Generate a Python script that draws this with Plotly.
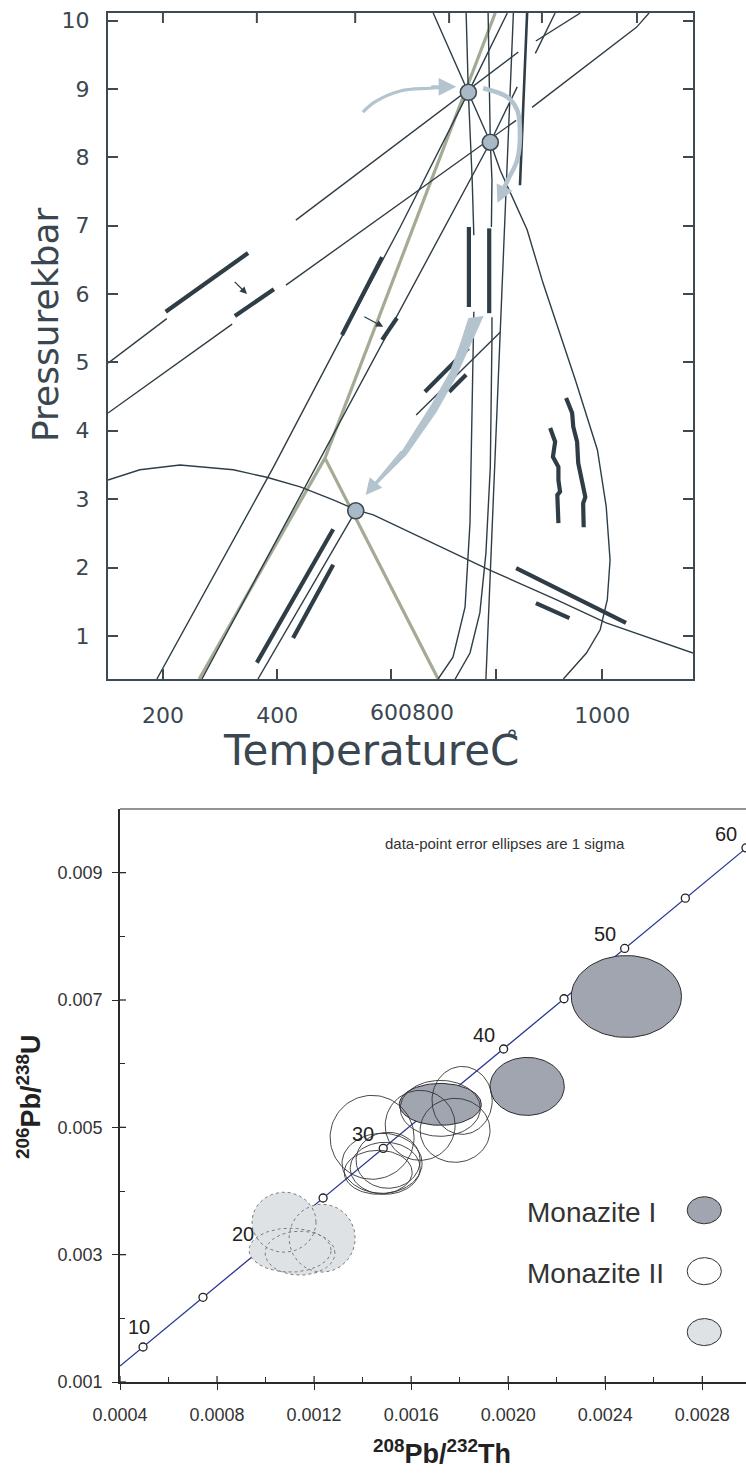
import numpy as np
import plotly.graph_objects as go

# ====================== TOP PANEL DATA: Temperature (°C) vs Pressure (kbar) ======================
# thin reaction / melting lines (segments)
line1a_T = [100, 207];  line1a_P = [4.99, 5.64]
line1b_T = [442, 847];  line1b_P = [7.08, 9.54]
line2a_T = [100, 326];  line2a_P = [4.26, 5.56]
line2b_T = [424, 843];  line2b_P = [6.13, 8.54]
lineA_T = [827, 756, 632, 526, 400, 189]
lineA_P = [10.11, 8.95, 6.98, 5.38, 3.45, 0.37]
lineI_T = [271, 796, 845];  lineI_P = [0.37, 8.22, 9.03]
curve1_T = [692, 756, 796, 814, 863, 892, 941, 951, 991, 1007, 1014, 1009, 996, 971, 929]
curve1_P = [10.11, 8.95, 8.22, 7.81, 6.94, 6.16, 4.99, 4.74, 3.72, 2.89, 2.11, 1.53, 1.09, 0.75, 0.37]
curve2a_T = [752, 756, 763, 766];  curve2a_P = [10.11, 8.95, 7.67, 6.86]
curve2b_T = [766, 765, 759, 750, 728, 701];  curve2b_P = [5.74, 5.33, 2.65, 1.42, 0.69, 0.37]
curve3a_T = [792, 796, 799, 798];  curve3a_P = [10.11, 8.22, 7.67, 6.98]
curve3b_T = [799, 799, 796, 788, 777, 759, 732];  curve3b_P = [5.66, 5.33, 3.47, 2.21, 1.34, 0.75, 0.37]
lineF_T = [838, 788];  lineF_P = [10.11, 0.37]
upper1_T = [879, 960];  upper1_P = [9.70, 10.11]
upper2_T = [878, 914];  upper2_P = [9.52, 10.11]
upper3_T = [872, 965, 1062, 1085];  upper3_P = [8.73, 9.30, 9.90, 10.11]
mid_T = [661, 814];  mid_P = [4.23, 5.44]
low_T = [373, 551];  low_P = [0.37, 2.83]
lowcurve_T = [100, 158, 231, 328, 389, 450, 510, 553, 583, 705, 796, 916, 1007, 1165]
lowcurve_P = [3.28, 3.43, 3.50, 3.43, 3.32, 3.18, 2.99, 2.84, 2.77, 2.30, 1.96, 1.53, 1.19, 0.75]
lineG_T = [863, 850];  lineG_P = [10.11, 7.59]

# aluminosilicate triple point lines
ky_and_T = [266, 495];  ky_and_P = [0.37, 3.60]
ky_sil_T = [495, 805];  ky_sil_P = [3.60, 10.11]
and_sil_T = [495, 701]; and_sil_P = [3.60, 0.37]

# thick bars
bar1_T = [205, 355];  bar1_P = [5.74, 6.60]
bar2_T = [331, 402];  bar2_P = [5.68, 6.07]
bar3_T = [526, 599];  bar3_P = [5.40, 6.54]
bar4_T = [599, 626];  bar4_P = [5.33, 5.65]
bar5_T = [677, 756];  bar5_P = [4.57, 5.21]
bar6_T = [721, 752];  bar6_P = [4.57, 4.82]
bar7_T = [371, 510];  bar7_P = [0.61, 2.56]
bar8_T = [437, 510];  bar8_P = [0.97, 2.04]
bar9_T = [843, 1043]; bar9_P = [1.99, 1.19]
bar10_T = [879, 940]; bar10_P = [1.48, 1.26]
bar11_T = [757, 757]; bar11_P = [6.98, 5.81]
bar12_T = [794, 794]; bar12_P = [6.96, 5.72]
squig1_T = [905, 914, 910, 920, 920, 923, 918, 920]
squig1_P = [4.04, 3.84, 3.62, 3.47, 3.28, 3.11, 3.06, 2.65]
squig2_T = [934, 945, 947, 954, 956, 963, 969, 965, 966]
squig2_P = [4.48, 4.26, 4.06, 3.84, 3.53, 3.28, 3.03, 2.94, 2.59]

# small dark arrows (tail -> head)
darrow_tail_T = [328, 564];  darrow_tail_P = [6.20, 5.68]
darrow_head_T = [353, 601];  darrow_head_P = [6.00, 5.52]

# blue P-T path arrows
path1_T = [564, 586, 632, 686, 722];  path1_P = [8.66, 8.81, 8.97, 9.01, 9.03]
path2_T = [783, 827, 845, 850, 845, 828, 815];  path2_P = [9.01, 8.88, 8.69, 8.35, 7.96, 7.67, 7.45]
path3R_T = [783, 759, 732, 697, 643, 577];  path3R_P = [5.68, 5.25, 4.77, 4.27, 3.65, 3.12]
path3L_T = [757, 743, 723, 690, 637];  path3L_P = [5.65, 5.30, 4.86, 4.39, 3.72]

# invariant points
node_T = [756, 796, 551];  node_P = [8.95, 8.22, 2.83]

# axis ticks
P_ticks = [1, 2, 3, 4, 5, 6, 7, 8, 9, 10]
T_ticks_bottom = [200, 408, 615, 807, 1000]
T_ticklabels_bottom = ["200", "400", "", "", "1000"]
T_ticks_top = [200, 371, 550, 721, 890, 1063]

# ====================== BOTTOM PANEL DATA: concordia ======================
conc_age = [10, 15, 20, 25, 30, 35, 40, 45, 50, 55, 60]
conc_x = [0.000495, 0.000742, 0.000990, 0.001237, 0.001485, 0.001733, 0.001981, 0.00223, 0.00248, 0.00273, 0.00298]
conc_y = [0.00155, 0.00233, 0.00311, 0.00389, 0.00467, 0.00545, 0.00623, 0.00702, 0.00781, 0.00860, 0.00939]
conc_start = (0.0004, 0.00125)
conc_end = (0.00302, 0.00951)
labelled_ages = [10, 20, 30, 40, 50, 60]

# error ellipses: centre x, centre y, semi-axis x, semi-axis y
monI_cx = [0.002487, 0.002078, 0.00172]
monI_cy = [0.007055, 0.005643, 0.005361]
monI_ax = [0.000227, 0.000153, 0.000169]
monI_ay = [0.000643, 0.000455, 0.000329]

monII_cx = [0.001439, 0.001480, 0.001493, 0.001505, 0.001464, 0.001637, 0.001781, 0.001810, 0.001720]
monII_cy = [0.004843, 0.004435, 0.004357, 0.004482, 0.004294, 0.005031, 0.004953, 0.005423, 0.005298]
monII_ax = [0.000173, 0.000165, 0.000144, 0.000132, 0.000140, 0.000144, 0.000144, 0.000124, 0.000165]
monII_ay = [0.000659, 0.000471, 0.000408, 0.000439, 0.000345, 0.000549, 0.000502, 0.000533, 0.000439]

mon3_cx = [0.001076, 0.001233, 0.001101, 0.001142]
mon3_cy = [0.00351, 0.003259, 0.003071, 0.003024]
mon3_ax = [0.000132, 0.000136, 0.000169, 0.000144]
mon3_ay = [0.000471, 0.000533, 0.000345, 0.000345]

legend_labels = ["Monazite I", "Monazite II", ""]
legend_cx = 0.002808
legend_cy = [0.003698, 0.002741, 0.001784]
legend_ax = 0.0000701
legend_ay = 0.000212

x2_ticks = [0.0004, 0.0008, 0.0012, 0.0016, 0.0020, 0.0024, 0.0028]
x2_ticktext = ["0.0004", "0.0008", "0.0012", "0.0016", "0.0020", "0.0024", "0.0028"]
x2_minor = [0.0006, 0.0010, 0.0014, 0.0018, 0.0022, 0.0026]
y2_ticks = [0.001, 0.003, 0.005, 0.007, 0.009]
y2_ticktext = ["0.001", "0.003", "0.005", "0.007", "0.009"]
y2_minor = [0.002, 0.004, 0.006, 0.008]

# ====================== STYLE ======================
W, H = 746, 1477
DARK = "#2f3d46"
AXC = "#3d4a53"
SAGE = "#a4ab94"
BLUE = "#b3c4ce"
NODE = "#a9b9c5"
TXT = "#3a4750"
FONT_TOP = "DejaVu Sans"
FONT_BOT = "Liberation Sans, Arial, sans-serif"


def join(pairs):
    xs, ys = [], []
    for x, y in pairs:
        if xs:
            xs.append(None); ys.append(None)
        xs.extend(x); ys.extend(y)
    return xs, ys


def ellipse(cx, cy, a, b, n=90):
    t = np.linspace(0, 2 * np.pi, n)
    return cx + a * np.cos(t), cy + b * np.sin(t)


fig = go.Figure()

# ---- top panel traces ----
thin = join([(line1a_T, line1a_P), (line1b_T, line1b_P), (line2a_T, line2a_P), (line2b_T, line2b_P),
             (lineA_T, lineA_P), (lineI_T, lineI_P), (curve1_T, curve1_P), (curve2a_T, curve2a_P),
             (curve2b_T, curve2b_P), (curve3a_T, curve3a_P), (curve3b_T, curve3b_P), (lineF_T, lineF_P),
             (upper1_T, upper1_P), (upper2_T, upper2_P), (upper3_T, upper3_P), (mid_T, mid_P),
             (low_T, low_P), (lowcurve_T, lowcurve_P)])
green = join([(ky_and_T, ky_and_P), (ky_sil_T, ky_sil_P), (and_sil_T, and_sil_P)])
thick = join([(bar1_T, bar1_P), (bar2_T, bar2_P), (bar3_T, bar3_P), (bar4_T, bar4_P), (bar5_T, bar5_P),
              (bar6_T, bar6_P), (bar7_T, bar7_P), (bar8_T, bar8_P), (bar9_T, bar9_P), (bar10_T, bar10_P),
              (bar11_T, bar11_P), (bar12_T, bar12_P), (squig1_T, squig1_P), (squig2_T, squig2_P)])

fig.add_trace(go.Scatter(x=green[0], y=green[1], mode="lines", line=dict(color=SAGE, width=3.2),
                         xaxis="x", yaxis="y", hoverinfo="skip"))
fig.add_trace(go.Scatter(x=thin[0], y=thin[1], mode="lines", line=dict(color=DARK, width=1.4),
                         xaxis="x", yaxis="y", hoverinfo="skip"))
fig.add_trace(go.Scatter(x=lineG_T, y=lineG_P, mode="lines", line=dict(color=DARK, width=2.6),
                         xaxis="x", yaxis="y", hoverinfo="skip"))
fig.add_trace(go.Scatter(x=thick[0], y=thick[1], mode="lines", line=dict(color=DARK, width=4.2),
                         xaxis="x", yaxis="y", hoverinfo="skip"))
# blue path arrows
fig.add_trace(go.Scatter(x=path1_T, y=path1_P, mode="lines", line=dict(color=BLUE, width=3.2, shape="spline"),
                         xaxis="x", yaxis="y", hoverinfo="skip"))
fig.add_trace(go.Scatter(x=path2_T, y=path2_P, mode="lines", line=dict(color=BLUE, width=4.5, shape="spline"),
                         xaxis="x", yaxis="y", hoverinfo="skip"))
fig.add_trace(go.Scatter(x=path3R_T + path3L_T[::-1], y=path3R_P + path3L_P[::-1], mode="lines",
                         fill="toself", fillcolor=BLUE, line=dict(color=BLUE, width=1),
                         xaxis="x", yaxis="y", hoverinfo="skip"))
# invariant points
fig.add_trace(go.Scatter(x=node_T, y=node_P, mode="markers",
                         marker=dict(size=16, color=NODE, line=dict(color=AXC, width=1.6)),
                         xaxis="x", yaxis="y", hoverinfo="skip"))

# ---- bottom panel traces ----
fig.add_trace(go.Scatter(x=[conc_start[0]] + conc_x + [conc_end[0]], y=[conc_start[1]] + conc_y + [conc_end[1]],
                         mode="lines", line=dict(color="#2a3890", width=1.3), xaxis="x2", yaxis="y2",
                         hoverinfo="skip"))
fig.add_trace(go.Scatter(x=conc_x, y=conc_y, mode="markers",
                         marker=dict(size=8, color="white", line=dict(color="#222222", width=1.3)),
                         xaxis="x2", yaxis="y2", hoverinfo="skip"))

# fills first
for cx, cy, a, b in zip(mon3_cx, mon3_cy, mon3_ax, mon3_ay):
    ex, ey = ellipse(cx, cy, a, b)
    fig.add_trace(go.Scatter(x=ex, y=ey, mode="lines", fill="toself", fillcolor="#dfe2e5",
                             line=dict(width=0, color="#dfe2e5"), xaxis="x2", yaxis="y2", hoverinfo="skip"))
for cx, cy, a, b in zip(mon3_cx, mon3_cy, mon3_ax, mon3_ay):
    ex, ey = ellipse(cx, cy, a, b)
    fig.add_trace(go.Scatter(x=ex, y=ey, mode="lines", line=dict(width=1, color="#7a7a7a", dash="dot"),
                             xaxis="x2", yaxis="y2", hoverinfo="skip"))
for cx, cy, a, b in zip(monI_cx, monI_cy, monI_ax, monI_ay):
    ex, ey = ellipse(cx, cy, a, b)
    fig.add_trace(go.Scatter(x=ex, y=ey, mode="lines", fill="toself", fillcolor="#a0a5af",
                             line=dict(width=1, color="#2b2b2b"), xaxis="x2", yaxis="y2", hoverinfo="skip"))
for cx, cy, a, b in zip(monII_cx, monII_cy, monII_ax, monII_ay):
    ex, ey = ellipse(cx, cy, a, b)
    fig.add_trace(go.Scatter(x=ex, y=ey, mode="lines", line=dict(width=0.9, color="#333333"),
                             xaxis="x2", yaxis="y2", hoverinfo="skip"))

# legend glyphs
legend_fills = ["#a0a5af", "white", "#dfe2e5"]
for cy, fc in zip(legend_cy, legend_fills):
    ex, ey = ellipse(legend_cx, cy, legend_ax, legend_ay)
    fig.add_trace(go.Scatter(x=ex, y=ey, mode="lines", fill="toself", fillcolor=fc,
                             line=dict(width=1, color="#2b2b2b"), xaxis="x2", yaxis="y2", hoverinfo="skip"))

annotations = []
# small dark arrows
for tx, ty, hx, hy in zip(darrow_tail_T, darrow_tail_P, darrow_head_T, darrow_head_P):
    annotations.append(dict(x=hx, y=hy, ax=tx, ay=ty, xref="x", yref="y", axref="x", ayref="y",
                            showarrow=True, arrowhead=2, arrowsize=1.1, arrowwidth=1.3,
                            arrowcolor=DARK, text="", standoff=0))
# blue arrow heads
annotations.append(dict(x=path1_T[-1] + 12, y=path1_P[-1], ax=path1_T[-2], ay=path1_P[-2] + 0.02,
                        xref="x", yref="y", axref="x", ayref="y", showarrow=True, arrowhead=2,
                        arrowsize=1.1, arrowwidth=3.2, arrowcolor=BLUE, text="", standoff=0))
annotations.append(dict(x=path2_T[-1] - 6, y=path2_P[-1] - 0.12, ax=path2_T[-2], ay=path2_P[-2],
                        xref="x", yref="y", axref="x", ayref="y", showarrow=True, arrowhead=2,
                        arrowsize=1.0, arrowwidth=3.5, arrowcolor=BLUE, text="", standoff=0))
annotations.append(dict(x=path3R_T[-1] - 8, y=path3R_P[-1] - 0.06, ax=path3L_T[-1], ay=path3L_P[-1],
                        xref="x", yref="y", axref="x", ayref="y", showarrow=True, arrowhead=2,
                        arrowsize=1.3, arrowwidth=2.5, arrowcolor=BLUE, text="", standoff=0))

# top panel titles
annotations.append(dict(text="Pressurekbar", x=45 / W, y=1 - 325 / H, xref="paper", yref="paper",
                        xanchor="center", yanchor="middle",
                        textangle=-90, showarrow=False, font=dict(family=FONT_TOP, size=36, color=TXT)))
annotations.append(dict(text="TemperatureC", x=371 / W, y=1 - 750 / H, xref="paper", yref="paper",
                        xanchor="center", yanchor="middle",
                        showarrow=False, font=dict(family=FONT_TOP, size=42, color=TXT)))
annotations.append(dict(text="°", x=512 / W, y=1 - 740 / H, xref="paper", yref="paper",
                        xanchor="center", yanchor="middle",
                        showarrow=False, font=dict(family=FONT_TOP, size=24, color=TXT)))
annotations.append(dict(text="600800", x=654, y=1 - 712 / H, xref="x", yref="paper",
                        xanchor="center", yanchor="middle",
                        showarrow=False, font=dict(family=FONT_TOP, size=22, color=TXT)))

# concordia age labels
for age, cx, cy in zip(conc_age, conc_x, conc_y):
    if age in labelled_ages:
        dx, dy = (-4, 20) if age == 10 else (-20, 14)
        annotations.append(dict(text=str(age), x=cx, y=cy, xref="x2", yref="y2", showarrow=False,
                                xanchor="center", yanchor="middle",
                                xshift=dx, yshift=dy, font=dict(family=FONT_BOT, size=20, color="#222222")))
annotations.append(dict(text="data-point error ellipses are 1 sigma", x=0.001485, y=0.009455,
                        xref="x2", yref="y2", xanchor="left", yanchor="middle", showarrow=False,
                        font=dict(family=FONT_BOT, size=15, color="#333333")))
for lab, cy in zip(legend_labels, legend_cy):
    if lab:
        annotations.append(dict(text=lab, x=0.00207, y=cy - 0.00003, xref="x2", yref="y2", xanchor="left",
                                yanchor="middle",
                                showarrow=False, font=dict(family=FONT_BOT, size=28, color="#333333")))
# bottom axis titles
annotations.append(dict(text="<b><sup>208</sup>Pb/<sup>232</sup>Th</b>", x=442 / W, y=1 - 1452 / H,
                        xref="paper", yref="paper", xanchor="center", yanchor="middle", showarrow=False,
                        font=dict(family=FONT_BOT, size=27, color="#222222")))
annotations.append(dict(text="<b><sup>206</sup>Pb/<sup>238</sup>U</b>", x=29 / W, y=1 - 1097 / H,
                        xref="paper", yref="paper", xanchor="center", yanchor="middle",
                        textangle=-90, showarrow=False,
                        font=dict(family=FONT_BOT, size=27, color="#222222")))

top_dom_x = [108 / W, 693 / W]
top_dom_y = [1 - 679 / H, 1 - 13 / H]
bot_dom_x = [120 / W, 1.0]
bot_dom_y = [1 - 1382 / H, 1 - 809 / H]
top_h_px = 666.0
bot_w_px = 626.0
bot_h_px = 573.0

# extra tick marks drawn as axis decorations
shapes = []
for t in T_ticks_top:  # top-edge ticks of the P-T frame (different spacing from the bottom)
    shapes.append(dict(type="line", xref="x", yref="y domain", x0=t, x1=t, y0=1, y1=1 - 10 / top_h_px,
                       line=dict(color=AXC, width=2)))
for v in x2_ticks:  # inner half of the crossing major ticks
    shapes.append(dict(type="line", xref="x2", yref="y2 domain", x0=v, x1=v, y0=0, y1=6 / bot_h_px,
                       line=dict(color="#2b2b2b", width=1.3)))
for v in y2_ticks:
    shapes.append(dict(type="line", xref="x2 domain", yref="y2", x0=0, x1=6 / bot_w_px, y0=v, y1=v,
                       line=dict(color="#2b2b2b", width=1.3)))
# grey top border of the concordia frame
shapes.append(dict(type="line", xref="x2 domain", yref="y2 domain", x0=0, x1=1, y0=1, y1=1,
                   line=dict(color="#707070", width=1.6)))

fig.update_layout(
    width=W, height=H, margin=dict(l=0, r=0, t=0, b=0, autoexpand=False),
    paper_bgcolor="white", plot_bgcolor="rgba(0,0,0,0)", showlegend=False,
    annotations=annotations, shapes=shapes,
    xaxis=dict(domain=top_dom_x, anchor="y", range=[100, 1165], showgrid=False, zeroline=False,
               automargin=False,
               showline=True, linecolor=AXC, linewidth=2, mirror=True,
               tickmode="array", tickvals=T_ticks_bottom, ticktext=T_ticklabels_bottom,
               ticks="inside", ticklen=10, tickwidth=2, tickcolor=AXC, ticklabelstandoff=16,
               tickfont=dict(family=FONT_TOP, size=22, color=TXT)),
    yaxis=dict(domain=top_dom_y, anchor="x", range=[0.37, 10.11], showgrid=False, zeroline=False,
               automargin=False,
               showline=True, linecolor=AXC, linewidth=2, mirror="ticks",
               tickmode="array", tickvals=P_ticks, ticks="inside", ticklen=10, tickwidth=2, tickcolor=AXC,
               ticklabelstandoff=12, tickfont=dict(family=FONT_TOP, size=22, color=TXT)),
    xaxis2=dict(domain=bot_dom_x, anchor="y2", range=[0.0004, 0.00298], showgrid=False, zeroline=False,
                automargin=False,
                showline=True, linecolor="#2b2b2b", linewidth=1.6, mirror=False,
                tickmode="array", tickvals=x2_ticks, ticktext=x2_ticktext,
                ticks="outside", ticklen=6, tickwidth=1.3, tickcolor="#2b2b2b", ticklabelstandoff=10,
                minor=dict(tickmode="array", tickvals=x2_minor, ticks="inside", ticklen=5,
                           tickwidth=1, tickcolor="#2b2b2b"),
                tickfont=dict(family=FONT_BOT, size=18, color="#333333")),
    yaxis2=dict(domain=bot_dom_y, anchor="x2", range=[0.001, 0.010], showgrid=False, zeroline=False,
                automargin=False,
                showline=True, linecolor="#2b2b2b", linewidth=1.6, mirror=False,
                tickmode="array", tickvals=y2_ticks, ticktext=y2_ticktext,
                ticks="outside", ticklen=6, tickwidth=1.3, tickcolor="#2b2b2b", ticklabelstandoff=6,
                minor=dict(tickmode="array", tickvals=y2_minor, ticks="inside", ticklen=5,
                           tickwidth=1, tickcolor="#2b2b2b"),
                tickfont=dict(family=FONT_BOT, size=18, color="#333333")),
)

fig.write_html("out.html", config={"displayModeBar": False},
               post_script="document.body.style.margin='0px';")
